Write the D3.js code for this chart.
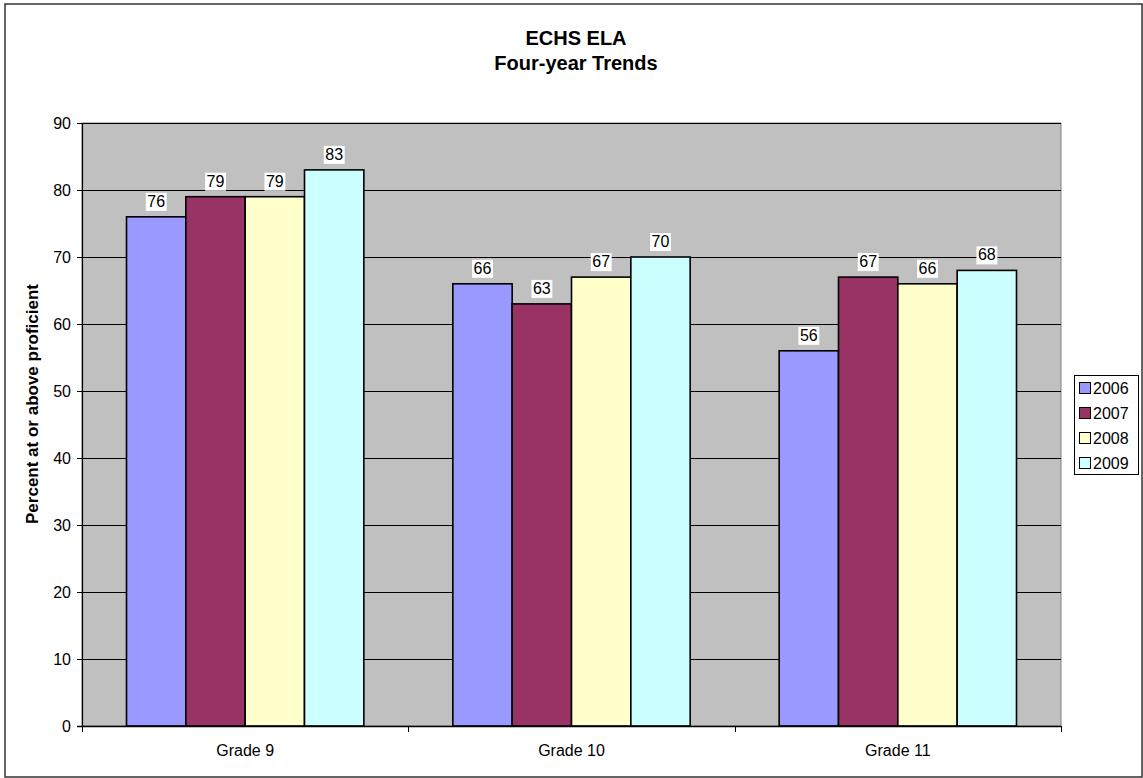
<!DOCTYPE html>
<html>
<head>
<meta charset="utf-8">
<script src="https://cdn.jsdelivr.net/npm/d3@7"></script>
<style>
  html, body { margin: 0; padding: 0; background: #fff; }
  svg { display: block; font-family: "Liberation Sans", Arial, sans-serif; }
</style>
</head>
<body>
<svg id="chart" width="1143" height="778"></svg>
<script>
// Chart data
const categories = ["Grade 9", "Grade 10", "Grade 11"];
const years = ["2006", "2007", "2008", "2009"];
const values2006 = [76, 66, 56];
const values2007 = [79, 63, 67];
const values2008 = [79, 67, 66];
const values2009 = [83, 70, 68];
const yTicks = [0, 10, 20, 30, 40, 50, 60, 70, 80, 90];
const seriesColors = ["#9999FF", "#993366", "#FFFFCC", "#CCFFFF"];

const seriesValues = [values2006, values2007, values2008, values2009];
const series = years.map((y, i) => ({ year: y, color: seriesColors[i], values: seriesValues[i] }));

const svg = d3.select("#chart");
const W = 1143, H = 778;
const plot = { left: 82, right: 1061, top: 123, bottom: 726 };

// Outer chart border
svg.append("rect")
  .attr("x", 5).attr("y", 4).attr("width", W - 6).attr("height", H - 5)
  .attr("fill", "#fff").attr("stroke", "#333").attr("stroke-width", 1.5);

// Scales
const x = d3.scaleBand().domain(categories)
  .range([plot.left, plot.right])
  .paddingInner(1.5 / 5.5).paddingOuter(0.75 / 5.5);
const xs = d3.scaleBand().domain(years).range([0, x.bandwidth()]);
const y = d3.scaleLinear().domain([0, 90]).range([plot.bottom, plot.top]);

// Plot background
svg.append("rect")
  .attr("x", plot.left).attr("y", plot.top)
  .attr("width", plot.right - plot.left).attr("height", plot.bottom - plot.top)
  .attr("fill", "#C0C0C0").attr("stroke", "#808080").attr("stroke-width", 1);

// Gridlines
svg.append("g").selectAll("line").data(yTicks.filter(d => d > 0)).join("line")
  .attr("x1", plot.left).attr("x2", plot.right)
  .attr("y1", d => Math.round(y(d)) + 0.5).attr("y2", d => Math.round(y(d)) + 0.5)
  .attr("stroke", "#000").attr("stroke-width", 1);

// Bars
const groups = svg.append("g").selectAll("g").data(series).join("g");
groups.selectAll("rect").data(s => s.values.map((v, i) => ({ v, cat: categories[i], year: s.year, color: s.color })))
  .join("rect")
  .attr("x", d => x(d.cat) + xs(d.year))
  .attr("y", d => y(d.v))
  .attr("width", xs.bandwidth())
  .attr("height", d => y(0) - y(d.v))
  .attr("fill", d => d.color)
  .attr("stroke", "#000").attr("stroke-width", 1.6);

// Y axis
const yAxis = d3.axisLeft(y).tickValues(yTicks).tickSize(5).tickPadding(6);
const yg = svg.append("g").attr("transform", `translate(${plot.left},0)`).call(yAxis);
yg.select(".domain").attr("stroke", "#000").attr("stroke-width", 1.2);
yg.selectAll(".tick line").attr("stroke", "#000");
yg.selectAll(".tick text").attr("font-size", 16).attr("fill", "#000")
  .attr("font-family", "'Liberation Sans', Arial, sans-serif");

// X axis line and category boundary ticks
svg.append("line")
  .attr("x1", plot.left - 5).attr("x2", plot.right)
  .attr("y1", plot.bottom + 0.5).attr("y2", plot.bottom + 0.5)
  .attr("stroke", "#000").attr("stroke-width", 1.5);
const boundaries = categories.map(c => x(c) - x.step() * x.paddingOuter()).concat([plot.right]);
svg.append("g").selectAll("line").data(boundaries).join("line")
  .attr("x1", d => Math.round(d) + 0.5).attr("x2", d => Math.round(d) + 0.5)
  .attr("y1", plot.bottom).attr("y2", plot.bottom + 6)
  .attr("stroke", "#000").attr("stroke-width", 1);

// Category labels
svg.append("g").selectAll("text").data(categories).join("text")
  .attr("x", d => x(d) + x.bandwidth() / 2)
  .attr("y", 756)
  .attr("text-anchor", "middle")
  .attr("font-size", 16)
  .text(d => d);

// Data labels with white backgrounds
const labels = svg.append("g");
series.forEach(s => {
  s.values.forEach((v, i) => {
    const cx = x(categories[i]) + xs(s.year) + xs.bandwidth() / 2;
    const base = y(v) - 10;
    const g = labels.append("g");
    const t = g.append("text")
      .attr("x", cx).attr("y", base)
      .attr("text-anchor", "middle")
      .attr("font-size", 16)
      .text(v);
    const bb = t.node().getBBox();
    g.insert("rect", "text")
      .attr("x", bb.x - 1.5).attr("y", bb.y)
      .attr("width", bb.width + 3).attr("height", bb.height + 1)
      .attr("fill", "#fff");
  });
});

// Title
const title = svg.append("text")
  .attr("text-anchor", "middle")
  .attr("font-size", 20).attr("font-weight", "bold");
title.append("tspan").attr("x", 576).attr("y", 45).text("ECHS ELA");
title.append("tspan").attr("x", 576).attr("y", 70).text("Four-year Trends");

// Y axis title
svg.append("text")
  .attr("transform", "translate(38,404) rotate(-90)")
  .attr("text-anchor", "middle")
  .attr("font-size", 17).attr("font-weight", "bold")
  .text("Percent at or above proficient");

// Legend
const lg = svg.append("g");
lg.append("rect")
  .attr("x", 1074.5).attr("y", 375.5).attr("width", 64).attr("height", 99)
  .attr("fill", "#fff").attr("stroke", "#000").attr("stroke-width", 1);
const items = lg.selectAll("g.item").data(series).join("g").attr("class", "item")
  .attr("transform", (d, i) => `translate(1079,${388 + i * 25})`);
items.append("rect")
  .attr("x", 0.5).attr("y", -5.5).attr("width", 11).attr("height", 11)
  .attr("fill", d => d.color).attr("stroke", "#000").attr("stroke-width", 1);
items.append("text")
  .attr("x", 14).attr("y", 6)
  .attr("font-size", 16)
  .text(d => d.year);
</script>
</body>
</html>
